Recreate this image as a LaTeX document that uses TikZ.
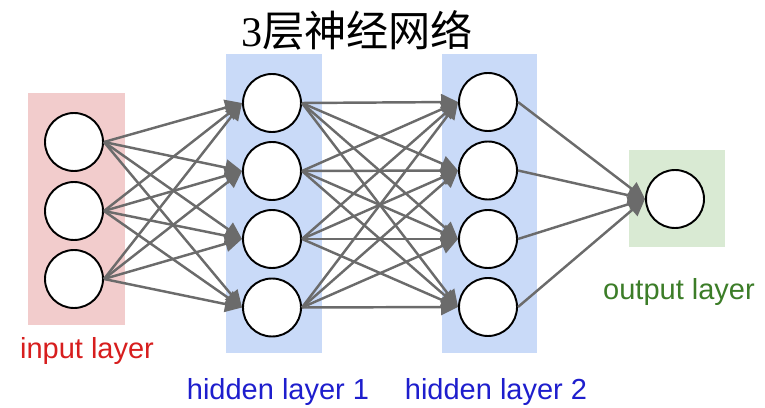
\documentclass[tikz,border=0pt]{standalone}
\usepackage{fontspec}
\setmainfont{Liberation Sans}
\newfontfamily\cjk{Noto Sans CJK SC}
\newfontfamily\serifdigit{Liberation Serif}
\usetikzlibrary{arrows.meta}
\definecolor{inbox}{RGB}{242,204,204}
\definecolor{hidbox}{RGB}{201,218,248}
\definecolor{outbox}{RGB}{217,234,211}
\definecolor{intext}{RGB}{215,30,30}
\definecolor{hidtext}{RGB}{30,30,205}
\definecolor{outtext}{RGB}{60,125,40}
\tikzset{
  neuron/.style={circle, draw=black, fill=white, line width=1.1pt, minimum size=1.16cm, inner sep=0pt},
  wire/.style={draw=black!58, line width=1.4pt, -{Triangle[length=0.34cm, width=0.32cm]}},
  lbl/.style={font=\fontsize{16.5}{18}\selectfont, inner sep=0pt, anchor=base}
}
\begin{document}
\begin{tikzpicture}
  \useasboundingbox (0,0) rectangle (15.3,8.14);
  % layer backgrounds
  \fill[inbox] (0.56,1.64) rectangle (2.5,6.28);
  \fill[hidbox] (4.52,1.08) rectangle (6.44,7.06);
  \fill[hidbox] (8.84,1.08) rectangle (10.74,7.06);
  \fill[outbox] (12.58,3.2) rectangle (14.5,5.14);
  % neurons
  \node[neuron] (In1) at (1.48,5.30) {};
  \node[neuron] (In2) at (1.48,3.92) {};
  \node[neuron] (In3) at (1.48,2.56) {};
  \node[neuron] (Ha1) at (5.44,6.08) {};
  \node[neuron] (Ha2) at (5.44,4.72) {};
  \node[neuron] (Ha3) at (5.44,3.36) {};
  \node[neuron] (Ha4) at (5.44,1.99) {};
  \node[neuron] (Hb1) at (9.76,6.10) {};
  \node[neuron] (Hb2) at (9.76,4.73) {};
  \node[neuron] (Hb3) at (9.76,3.36) {};
  \node[neuron] (Hb4) at (9.76,2.00) {};
  \node[neuron] (Out) at (13.5,4.16) {};
  % connections
  \foreach \i in {1,2,3}
    \foreach \j in {1,2,3,4}
      \draw[wire] (In\i.east) -- (Ha\j.west);
  \foreach \i in {1,2,3,4}
    \foreach \j in {1,2,3,4}
      \draw[wire] (Ha\i.east) -- (Hb\j.west);
  \foreach \i in {1,2,3,4}
    \draw[wire] (Hb\i.east) -- (Out.west);
  % labels
  \node[lbl, text=intext] (InLabel) at (1.74,0.97) {input layer};
  \node[lbl, text=hidtext] (HaLabel) at (5.56,0.15) {hidden layer 1};
  \node[lbl, text=hidtext] (HbLabel) at (9.92,0.15) {hidden layer 2};
  \node[lbl, text=outtext] (OutLabel) at (13.58,2.15) {output layer};
  \node[font=\fontsize{24}{26}\selectfont] (Title) at (7.14,7.54) {{\serifdigit 3}{\cjk 层神经网络}};
\end{tikzpicture}
\end{document}
